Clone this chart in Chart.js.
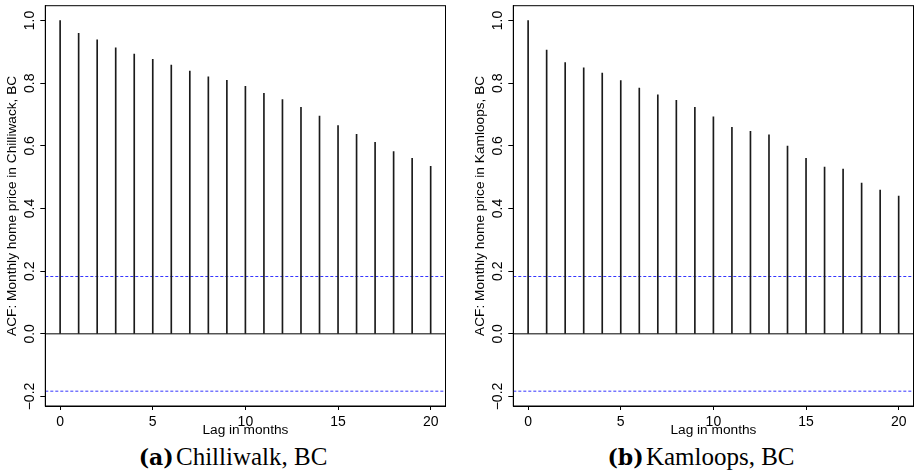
<!DOCTYPE html>
<html>
<head>
<meta charset="utf-8">
<script src="https://cdn.jsdelivr.net/npm/chart.js@4.4.0/dist/chart.umd.min.js"></script>
<style>
  html, body { margin: 0; padding: 0; background: #fff; overflow: hidden; }
  body { width: 914px; height: 475px; position: relative; }
  canvas { position: absolute; top: 0; }
  #acfLeft { left: 0; }
  #acfRight { left: 468px; }
  .caption {
    position: absolute; top: 444px; width: 466px;
    text-align: center; white-space: nowrap; color: #000;
    font: 25px/25px "Liberation Serif", serif;
  }
  .caption b { font-family: "DejaVu Serif", serif; font-size: 22px; margin-right: -4px; }
</style>
</head>
<body>
<canvas id="acfLeft" width="446" height="440"></canvas>
<canvas id="acfRight" width="446" height="440"></canvas>
<div class="caption" style="left:0"><b>(a)</b> Chilliwalk, BC</div>
<div class="caption" style="left:468px"><b>(b)</b> Kamloops, BC</div>
<script>
const lags = [0, 1, 2, 3, 4, 5, 6, 7, 8, 9, 10, 11, 12, 13, 14, 15, 16, 17, 18, 19, 20];
const chilliwackAcf = [1.000, 0.959, 0.938, 0.913, 0.893, 0.876, 0.858, 0.839, 0.820, 0.809, 0.790,
                       0.768, 0.748, 0.723, 0.695, 0.665, 0.637, 0.611, 0.582, 0.560, 0.535];
const kamloopsAcf = [1.000, 0.906, 0.866, 0.849, 0.832, 0.808, 0.784, 0.763, 0.745, 0.723, 0.693,
                     0.659, 0.646, 0.635, 0.599, 0.560, 0.532, 0.526, 0.481, 0.459, 0.440];
const ciBound = 0.183;   // 95% band, 1.96/sqrt(n)
const xTicks = [0, 5, 10, 15, 20];
const yTicks = [-0.2, 0.0, 0.2, 0.4, 0.6, 0.8, 1.0];

// axis limits the way R pads them: 4% of the range on each side
const xPad = 0.04 * (lags[lags.length - 1] - lags[0]);
const xMin = lags[0] - xPad;
const xMax = lags[lags.length - 1] + xPad;
const yPad = 0.04 * (1 + ciBound);
const yMin = -ciBound - yPad;
const yMax = 1 + yPad;

const SANS = 'Liberation Sans, Arial, Helvetica, sans-serif';
const tickFont = { family: SANS, size: 14 };
const titleFont = { family: SANS, size: 13.7 };

// plot box around the whole data region
const boxFrame = {
    id: 'boxFrame',
    afterDraw(chart) {
        const { ctx, chartArea: a } = chart;
        ctx.save();
        ctx.strokeStyle = '#000';
        ctx.lineWidth = 1;
        ctx.strokeRect(a.left, a.top, a.right - a.left, a.bottom - a.top);
        ctx.restore();
    }
};

function hline(y, color, dash) {
    return {
        type: 'line',
        data: [{ x: xMin, y: y }, { x: xMax, y: y }],
        borderColor: color,
        borderWidth: 1,
        borderDash: dash,
        pointRadius: 0,
        fill: false
    };
}

function tickLabel(v) {
    const s = Math.abs(v).toFixed(1);
    return v < -1e-9 ? '\u2212' + s : s;
}

function drawAcf(canvasId, acf, yTitle) {
    new Chart(document.getElementById(canvasId), {
        type: 'bar',
        data: {
            datasets: [
                {
                    type: 'bar',
                    data: lags.map((lag, i) => ({ x: lag, y: acf[i] })),
                    backgroundColor: '#1a1a1a',
                    borderWidth: 0,
                    barThickness: 1
                },
                hline(0, '#000', []),
                hline(ciBound, '#3535ff', [3, 2]),
                hline(-ciBound, '#3535ff', [3, 2])
            ]
        },
        options: {
            responsive: false,
            animation: false,
            devicePixelRatio: 1,
            layout: { padding: { top: 5.7, right: 0.5, bottom: 0, left: 0 } },
            plugins: {
                legend: { display: false },
                tooltip: { enabled: false }
            },
            scales: {
                x: {
                    type: 'linear',
                    min: xMin,
                    max: xMax,
                    offset: false,
                    afterBuildTicks: s => { s.ticks = xTicks.map(v => ({ value: v })); },
                    afterFit: s => { s.height = 34; },
                    grid: { drawOnChartArea: false, offset: false, tickLength: 4, color: '#000' },
                    border: { display: true, color: '#000' },
                    ticks: { font: tickFont, color: '#000', padding: 4, maxRotation: 0, autoSkip: false },
                    title: {
                        display: true, text: 'Lag in months', font: titleFont, color: '#000',
                        padding: { top: 0, bottom: 1.5 }
                    }
                },
                y: {
                    type: 'linear',
                    min: yMin,
                    max: yMax,
                    afterBuildTicks: s => { s.ticks = yTicks.map(v => ({ value: v })); },
                    afterFit: s => { s.width = 45.3; },
                    grid: { drawOnChartArea: false, tickLength: 5, color: '#000' },
                    border: { display: true, color: '#000' },
                    ticks: {
                        font: tickFont, color: '#000', autoSkip: false,
                        minRotation: 90, maxRotation: 90, crossAlign: 'center', padding: -3.5,
                        callback: tickLabel
                    },
                    title: {
                        display: true, text: yTitle, font: titleFont, color: '#000',
                        padding: { top: 3.8, bottom: 0 }
                    }
                }
            }
        },
        plugins: [boxFrame]
    });
}

drawAcf('acfLeft', chilliwackAcf, 'ACF: Monthly home price in Chilliwack, BC');
drawAcf('acfRight', kamloopsAcf, 'ACF: Monthly home price in Kamloops, BC');
</script>
</body>
</html>
